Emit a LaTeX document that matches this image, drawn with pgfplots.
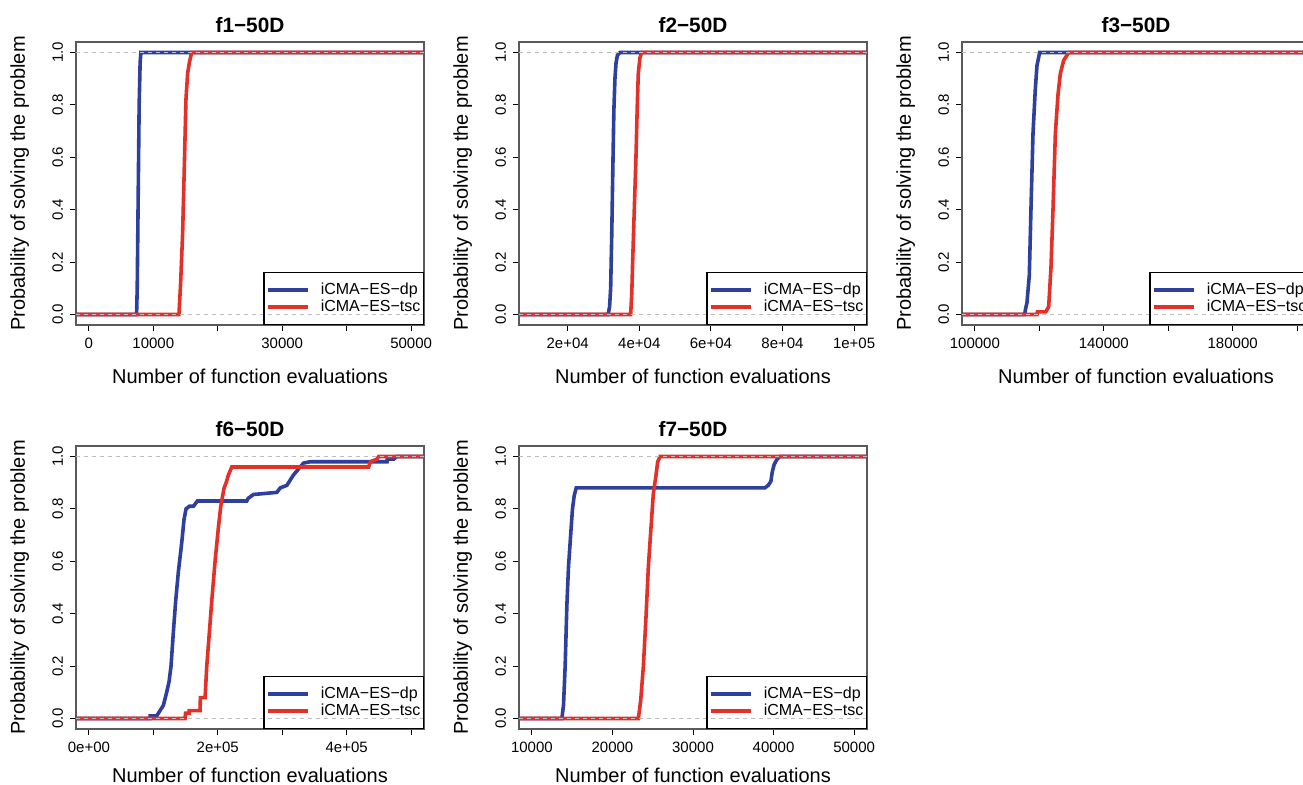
\documentclass[border=0pt]{standalone}
\usepackage{pgfplots}
\pgfplotsset{compat=1.18}
\usepackage{fontspec}
\setmainfont{Liberation Sans}

\definecolor{cblue}{RGB}{46,63,158}
\definecolor{cred}{RGB}{227,48,40}
\definecolor{boxgray}{RGB}{90,90,90}
\definecolor{refgray}{RGB}{190,190,190}

% 1 px of the reference = 0.5pt
\pgfplotsset{
  ecdf/.style={
    width=174pt, height=141.5pt, scale only axis,
    anchor=south west,
    ymin=-0.04, ymax=1.04,
    ytick={0,0.2,0.4,0.6,0.8,1},
    yticklabels={0.0,0.2,0.4,0.6,0.8,1.0},
    scaled x ticks=false,
    xtick pos=lower, ytick pos=left,
    tick align=outside,
    major tick length=3pt,
    axis line style={boxgray, line width=0.6pt},
    tick style={black, line width=0.5pt},
    /pgf/number format/assume math mode=true,
    ticklabel style={font=\fontsize{7.5}{9}\selectfont},
    yticklabel style={rotate=90, anchor=south},
    xlabel={Number of function evaluations},
    ylabel={Probability of solving the problem},
    label style={font=\fontsize{10}{12}\selectfont},
    xlabel style={at={(axis description cs:0.5,0)}, anchor=base, yshift=-29pt},
    ylabel style={at={(axis description cs:-0.1466,0.5)}, anchor=base},
    title style={at={(axis description cs:0.5,1)}, anchor=base, yshift=-1pt,
      font=\bfseries\fontsize{10.4}{12}\selectfont},
    legend cell align=left,
    legend style={at={(axis description cs:1,0)}, anchor=south east,
      draw=black, fill=none, line width=0.6pt,
      font=\fontsize{8}{9}\selectfont,
      inner xsep=0.9pt, inner ysep=4.5pt, column sep=5.1pt,
      nodes={inner sep=0.6pt}},
    legend image code/.code={\path (-5pt,0pt) -- (0pt,0pt);
      \draw[#1] (0pt,0pt) -- (15pt,0pt);},
  },
  lowrow/.style={xlabel style={yshift=2.5pt}},
  dp/.style={cblue, line width=1.8pt},
  tsc/.style={cred, line width=1.8pt},
  refl/.style={refgray, line width=0.5pt, dash pattern=on 2pt off 2pt, forget plot},
}

\begin{document}
\begin{tikzpicture}

% ---- f1 ----
\begin{axis}[ecdf, at={(38pt,229.5pt)}, title={f1−50D},
  xmin=-2000, xmax=52000,
  xtick={0,10000,20000,30000,40000,50000},
  xticklabels={0,10000,,30000,,50000}]
\addplot[dp] coordinates {(-2000,0)(7400,0)(7500,0.1)(7650,0.45)(7800,0.8)(7950,0.96)(8070,1)(52000,1)};
\addplot[tsc] coordinates {(-2000,0)(13975,0)(14235,0.12)(14545,0.31)(14804,0.56)(15062,0.82)(15321,0.92)(15580,0.96)(15942,1)(52000,1)};
\addplot[refl] coordinates {(-2000,0)(52000,0)};
\addplot[refl] coordinates {(-2000,1)(52000,1)};
\legend{iCMA−ES−dp,iCMA−ES−tsc}
\end{axis}

% ---- f2 ----
\begin{axis}[ecdf, at={(259.5pt,229.5pt)}, title={f2−50D},
  xmin=6400, xmax=103600,
  xtick={20000,40000,60000,80000,100000},
  xticklabels={2e+04,4e+04,6e+04,8e+04,1e+05}]
\addplot[dp] coordinates {(6400,0)(31300,0)(31700,0.03)(32000,0.1)(32300,0.3)(32600,0.55)(32900,0.78)(33200,0.9)(33500,0.96)(33900,0.99)(34600,1)(103600,1)};
\addplot[tsc] coordinates {(6400,0)(37580,0)(37900,0.08)(38140,0.2)(38600,0.4)(39070,0.6)(39440,0.8)(39720,0.92)(40190,0.98)(40650,1)(103600,1)};
\addplot[refl] coordinates {(6400,0)(103600,0)};
\addplot[refl] coordinates {(6400,1)(103600,1)};
\legend{iCMA−ES−dp,iCMA−ES−tsc}
\end{axis}

% ---- f3 ----
\begin{axis}[ecdf, at={(481pt,229.5pt)}, title={f3−50D},
  xmin=96000, xmax=204000,
  xtick={100000,120000,140000,160000,180000,200000},
  xticklabels={100000,,140000,,180000,}]
\addplot[dp] coordinates {(96000,0)(115440,0)(115700,0.02)(116160,0.045)(116890,0.15)(117400,0.4)(118030,0.69)(118750,0.86)(119270,0.95)(120100,1)(204000,1)};
\addplot[tsc] coordinates {(96000,0)(119270,0)(119400,0.01)(122000,0.01)(122900,0.03)(123620,0.18)(124240,0.4)(124970,0.69)(125800,0.84)(126520,0.92)(127560,0.97)(129110,1)(204000,1)};
\addplot[refl] coordinates {(96000,0)(204000,0)};
\addplot[refl] coordinates {(96000,1)(204000,1)};
\legend{iCMA−ES−dp,iCMA−ES−tsc}
\end{axis}

% ---- f6 ----
\begin{axis}[ecdf, lowrow, at={(38pt,27.5pt)}, title={f6−50D},
  xmin=-20000, xmax=520000,
  xtick={0,100000,200000,300000,400000,500000},
  xticklabels={0e+00,,2e+05,,4e+05,}]
\addplot[dp] coordinates {(-20000,0)(94800,0)(95000,0.01)(105200,0.01)(110360,0.03)(115540,0.05)(120700,0.1)(124350,0.14)(127450,0.2)(131080,0.33)(134710,0.45)(138850,0.56)(144030,0.67)(147660,0.76)(150770,0.8)(155950,0.81)(162200,0.81)(168380,0.83)(245060,0.83)(247000,0.84)(255420,0.855)(291690,0.863)(296870,0.88)(307230,0.89)(317600,0.93)(327960,0.96)(333140,0.975)(343500,0.98)(462660,0.98)(463000,0.99)(473020,0.99)(478200,1)(520000,1)};
\addplot[tsc] coordinates {(-20000,0)(149200,0)(150000,0.02)(155400,0.02)(155500,0.03)(172500,0.03)(173000,0.08)(180300,0.08)(182900,0.2)(187000,0.33)(190700,0.45)(195800,0.6)(201000,0.73)(204650,0.81)(209830,0.88)(213000,0.9)(216560,0.93)(221750,0.96)(434160,0.96)(436750,0.98)(447100,0.99)(449700,1)(520000,1)};
\addplot[refl] coordinates {(-20000,0)(520000,0)};
\addplot[refl] coordinates {(-20000,1)(520000,1)};
\legend{iCMA−ES−dp,iCMA−ES−tsc}
\end{axis}

% ---- f7 ----
\begin{axis}[ecdf, lowrow, at={(259.5pt,27.5pt)}, title={f7−50D},
  xmin=8400, xmax=51600,
  xtick={10000,20000,30000,40000,50000},
  xticklabels={10000,20000,30000,40000,50000}]
\addplot[dp] coordinates {(8400,0)(13720,0)(13925,0.05)(14130,0.2)(14340,0.43)(14545,0.58)(14835,0.71)(15040,0.8)(15250,0.85)(15500,0.88)(38920,0.88)(39340,0.89)(39670,0.905)(39830,0.94)(40080,0.97)(40450,0.99)(40780,1)(51600,1)};
\addplot[tsc] coordinates {(8400,0)(23220,0)(23510,0.07)(23840,0.2)(24170,0.39)(24460,0.58)(24790,0.73)(25080,0.86)(25370,0.92)(25620,0.98)(25910,1)(51600,1)};
\addplot[refl] coordinates {(8400,0)(51600,0)};
\addplot[refl] coordinates {(8400,1)(51600,1)};
\legend{iCMA−ES−dp,iCMA−ES−tsc}
\end{axis}

\pgfresetboundingbox
\useasboundingbox (0,0) rectangle (651.5pt,392pt);
\end{tikzpicture}
\end{document}
